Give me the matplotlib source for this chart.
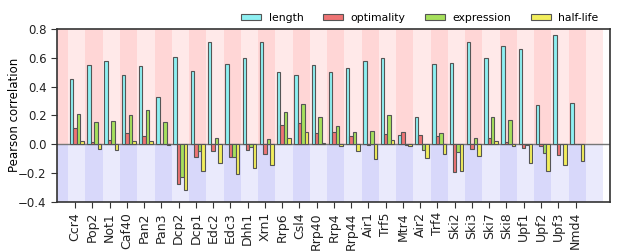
import numpy as np
import matplotlib
matplotlib.use('Agg')
import matplotlib.pyplot as plt

plt.rcParams['font.family'] = 'DejaVu Sans'
plt.rcParams['font.size'] = 8

# 遺伝子名
genes = ['Ccr4', 'Pop2', 'Not1', 'Caf40', 'Pan2', 'Pan3', 'Dcp2', 'Dcp1', 'Edc2', 'Edc3',
         'Dhh1', 'Xrn1', 'Rrp6', 'Csl4', 'Rrp40', 'Rrp4', 'Rrp44', 'Air1', 'Trf5', 'Mtr4',
         'Air2', 'Trf4', 'Ski2', 'Ski3', 'Ski7', 'Ski8', 'Upf1', 'Upf2', 'Upf3', 'Nmd4']

# 各指標との相関
length = [0.45, 0.55, 0.58, 0.48, 0.54, 0.33, 0.605, 0.51, 0.71, 0.56,
          0.60, 0.71, 0.50, 0.48, 0.55, 0.50, 0.53, 0.575, 0.60, 0.065,
          0.19, 0.56, 0.565, 0.71, 0.595, 0.685, 0.66, 0.275, 0.76, 0.285]
optimality = [0.11, 0.015, 0.028, 0.08, 0.056, 0.002, -0.277, -0.093, -0.051, -0.093,
              -0.04, -0.07, 0.133, 0.147, 0.074, 0.086, 0.053, -0.005, 0.067, 0.084,
              0.065, 0.058, -0.195, -0.033, 0.04, 0.014, -0.026, -0.016, -0.074, 0.003]
expression = [0.212, 0.156, 0.16, 0.2, 0.237, 0.151, -0.23, -0.051, 0.042, -0.091,
              -0.021, 0.035, 0.226, 0.277, 0.188, 0.128, 0.081, 0.093, 0.2, -0.005,
              -0.042, 0.077, -0.056, 0.042, 0.186, 0.167, -0.009, -0.06, -0.002, 0.001]
half_life = [0.019, -0.033, -0.044, 0.023, 0.023, -0.005, -0.319, -0.188, -0.133, -0.207,
             -0.167, -0.147, 0.04, 0.084, 0.009, -0.014, -0.049, -0.107, 0.028, -0.012,
             -0.095, -0.067, -0.186, -0.081, 0.019, -0.012, -0.133, -0.188, -0.147, -0.116]

series = [length, optimality, expression, half_life]
labels = ['length', 'optimality', 'expression', 'half-life']
colors = ['#8ef0f2', '#ee7474', '#a6e05c', '#f2ee5c']

fig = plt.figure(figsize=(6.17, 2.52), dpi=100)
ax = fig.add_axes([0.0924, 0.2, 0.8963, 0.685])

x = np.arange(len(genes))
ymin, ymax = -0.4, 0.8

# 背景の縞模様
for i in range(-1, len(genes) + 1):
    dark = (i % 2 == 1)
    ax.fill_between([i - 0.4, i + 0.6], 0, ymax,
                    color='#ffd6d6' if dark else '#ffe9e9', lw=0, zorder=0)
    ax.fill_between([i - 0.4, i + 0.6], ymin, 0,
                    color='#d8d8fa' if dark else '#eaeafc', lw=0, zorder=0)

w = 0.2
for k, (vals, lab, c) in enumerate(zip(series, labels, colors)):
    ax.bar(x + (k - 1) * w, vals, width=w, color=c, edgecolor='#555555',
           linewidth=0.8, label=lab, zorder=2)

ax.axhline(0, color='#777777', lw=1.0, zorder=1)

ax.set_xlim(-1.05, 31.0)
ax.set_ylim(ymin, ymax)
ax.set_xticks(x)
ax.set_xticklabels(genes, rotation=90, fontsize=9)
ax.set_yticks([-0.4, -0.2, 0.0, 0.2, 0.4, 0.6, 0.8])
ax.set_yticklabels(['\u22120.4', '\u22120.2', '0.0', '0.2', '0.4', '0.6', '0.8'], fontsize=8.5)
ax.set_ylabel('Pearson correlation', fontsize=8.5)
ax.yaxis.set_label_coords(-0.066, 0.5)
ax.tick_params(direction='out', length=4, width=0.8, colors='#333333', labelcolor='#222222')
for s in ax.spines.values():
    s.set_color('#333333')
    s.set_linewidth(1.2)

ax.legend(loc='lower right', bbox_to_anchor=(0.99, 1.0), ncol=4, frameon=False,
          fontsize=7.8, handlelength=1.85, handleheight=0.55, columnspacing=1.85,
          handletextpad=0.65, borderaxespad=0.15)

plt.savefig('out.png', dpi=100)
